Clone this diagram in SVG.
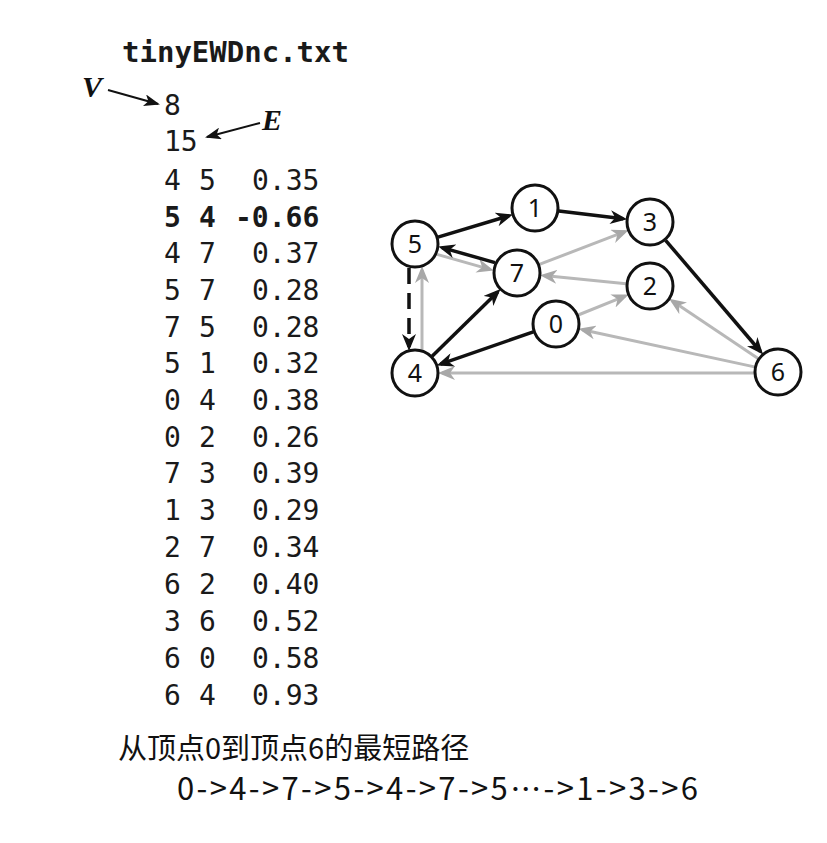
<svg xmlns="http://www.w3.org/2000/svg" width="827" height="843" viewBox="0 0 827 843">
<style>
.mono{font-family:"DejaVu Sans Mono","Liberation Mono",monospace;font-size:28px;fill:#1a1a1a}
.b{font-weight:bold}
.lbl{font-family:"Noto Sans","DejaVu Sans",sans-serif;font-size:25px;fill:#111;text-anchor:middle}
.node circle{fill:#fff;stroke:#111;stroke-width:3}
.blk{stroke:#111;stroke-width:3.5;fill:none}
.gry{stroke:#b8b8b8;stroke-width:3;fill:none}
.ital{font-family:"Liberation Serif","DejaVu Serif",serif;font-style:italic;font-weight:bold;font-size:30px;fill:#111}
.cjk{font-family:"Noto Sans CJK SC","Noto Sans",sans-serif;fill:#111}
</style>
<defs>
<marker id="ab" markerUnits="userSpaceOnUse" markerWidth="20" markerHeight="14" refX="13" refY="7" orient="auto">
<path d="M0,0 L17,7 L0,14 L5,7 z" fill="#111"/>
</marker>
<marker id="ag" markerUnits="userSpaceOnUse" markerWidth="20" markerHeight="14" refX="13" refY="7" orient="auto">
<path d="M0,0 L17,7 L0,14 L5,7 z" fill="#a8a8a8"/>
</marker>
<marker id="at" markerUnits="userSpaceOnUse" markerWidth="18" markerHeight="12" refX="14" refY="6" orient="auto">
<path d="M0,0 L16,6 L0,12 L4,6 z" fill="#111"/>
</marker>
</defs>
<rect width="827" height="843" fill="#fff"/>

<g id="listing">
<text class="mono b" x="122" y="62" style="font-size:29px">tinyEWDnc.txt</text>
<text class="ital" x="82" y="97">V</text>
<text class="ital" x="262" y="130">E</text>
<text class="mono" x="164" y="115">8</text>
<text class="mono" x="164" y="151">15</text>
<g class="mono">
<text y="190"><tspan x="164">4</tspan><tspan x="199">5</tspan><tspan x="252">0.35</tspan></text>
<text y="227" font-weight="bold"><tspan x="164">5</tspan><tspan x="199">4</tspan><tspan x="235">-0.66</tspan></text>
<text y="263"><tspan x="164">4</tspan><tspan x="199">7</tspan><tspan x="252">0.37</tspan></text>
<text y="300"><tspan x="164">5</tspan><tspan x="199">7</tspan><tspan x="252">0.28</tspan></text>
<text y="337"><tspan x="164">7</tspan><tspan x="199">5</tspan><tspan x="252">0.28</tspan></text>
<text y="373"><tspan x="164">5</tspan><tspan x="199">1</tspan><tspan x="252">0.32</tspan></text>
<text y="410"><tspan x="164">0</tspan><tspan x="199">4</tspan><tspan x="252">0.38</tspan></text>
<text y="447"><tspan x="164">0</tspan><tspan x="199">2</tspan><tspan x="252">0.26</tspan></text>
<text y="483"><tspan x="164">7</tspan><tspan x="199">3</tspan><tspan x="252">0.39</tspan></text>
<text y="520"><tspan x="164">1</tspan><tspan x="199">3</tspan><tspan x="252">0.29</tspan></text>
<text y="557"><tspan x="164">2</tspan><tspan x="199">7</tspan><tspan x="252">0.34</tspan></text>
<text y="594"><tspan x="164">6</tspan><tspan x="199">2</tspan><tspan x="252">0.40</tspan></text>
<text y="631"><tspan x="164">3</tspan><tspan x="199">6</tspan><tspan x="252">0.52</tspan></text>
<text y="668"><tspan x="164">6</tspan><tspan x="199">0</tspan><tspan x="252">0.58</tspan></text>
<text y="705"><tspan x="164">6</tspan><tspan x="199">4</tspan><tspan x="252">0.93</tspan></text>
</g>
</g>

<g id="connectors">
<line x1="108" y1="90" x2="158" y2="104" stroke="#111" stroke-width="2" marker-end="url(#at)"/>
<line x1="260" y1="123" x2="207" y2="137" stroke="#111" stroke-width="2" marker-end="url(#at)"/>
<!-- gray edges -->
<line class="gry" x1="422" y1="350" x2="422" y2="270" marker-end="url(#ag)"/>
<line class="gry" x1="437" y1="254.4" x2="489.9" y2="269.4" marker-end="url(#ag)"/>
<line class="gry" x1="539.4" y1="264.4" x2="624.8" y2="231.7" marker-end="url(#ag)"/>
<line class="gry" x1="626.1" y1="283.7" x2="543.9" y2="275.6" marker-end="url(#ag)"/>
<line class="gry" x1="578.2" y1="315" x2="625" y2="296.1" marker-end="url(#ag)"/>
<line class="gry" x1="758.1" y1="358.6" x2="672.4" y2="301.1" marker-end="url(#ag)"/>
<line class="gry" x1="754.5" y1="366.9" x2="582.4" y2="329.7" marker-end="url(#ag)"/>
<line class="gry" x1="754" y1="373" x2="442" y2="373" marker-end="url(#ag)"/>
<!-- black edges -->
<line class="blk" x1="438" y1="237.1" x2="509.1" y2="215.7" marker-end="url(#ab)"/>
<line class="blk" x1="558.8" y1="210.9" x2="623.2" y2="218.7" marker-end="url(#ab)"/>
<line class="blk" x1="665.6" y1="240.3" x2="760.5" y2="351.5" marker-end="url(#ab)"/>
<line class="blk" x1="495" y1="262.6" x2="442.1" y2="247.6" marker-end="url(#ab)"/>
<line class="blk" x1="432.1" y1="356.2" x2="497.7" y2="291.9" marker-end="url(#ab)"/>
<line class="blk" x1="533.3" y1="331.9" x2="440.5" y2="364.1" marker-end="url(#ab)"/>
<line class="blk" x1="409" y1="268" x2="409" y2="347" stroke-dasharray="16 9" marker-end="url(#ab)"/>
</g>

<g id="n0" class="node"><circle cx="556" cy="324" r="23"/><text class="lbl" x="556" y="333">0</text></g>
<g id="n1" class="node"><circle cx="535" cy="208" r="23"/><text class="lbl" x="535" y="217">1</text></g>
<g id="n2" class="node"><circle cx="650" cy="286" r="23"/><text class="lbl" x="650" y="295">2</text></g>
<g id="n3" class="node"><circle cx="650" cy="222" r="23"/><text class="lbl" x="650" y="231">3</text></g>
<g id="n4" class="node"><circle cx="415" cy="373" r="23"/><text class="lbl" x="415" y="382">4</text></g>
<g id="n5" class="node"><circle cx="415" cy="244" r="23"/><text class="lbl" x="415" y="253">5</text></g>
<g id="n6" class="node"><circle cx="778" cy="372" r="23"/><text class="lbl" x="778" y="381">6</text></g>
<g id="n7" class="node"><circle cx="517" cy="273" r="23"/><text class="lbl" x="517" y="282">7</text></g>

<g id="caption">
<text class="cjk" x="118" y="759" font-size="29">从顶点0到顶点6的最短路径</text>
<text class="cjk" x="177" y="800" font-size="31" textLength="521" lengthAdjust="spacing">0-&gt;4-&gt;7-&gt;5-&gt;4-&gt;7-&gt;5⋯-&gt;1-&gt;3-&gt;6</text>
</g>
</svg>
